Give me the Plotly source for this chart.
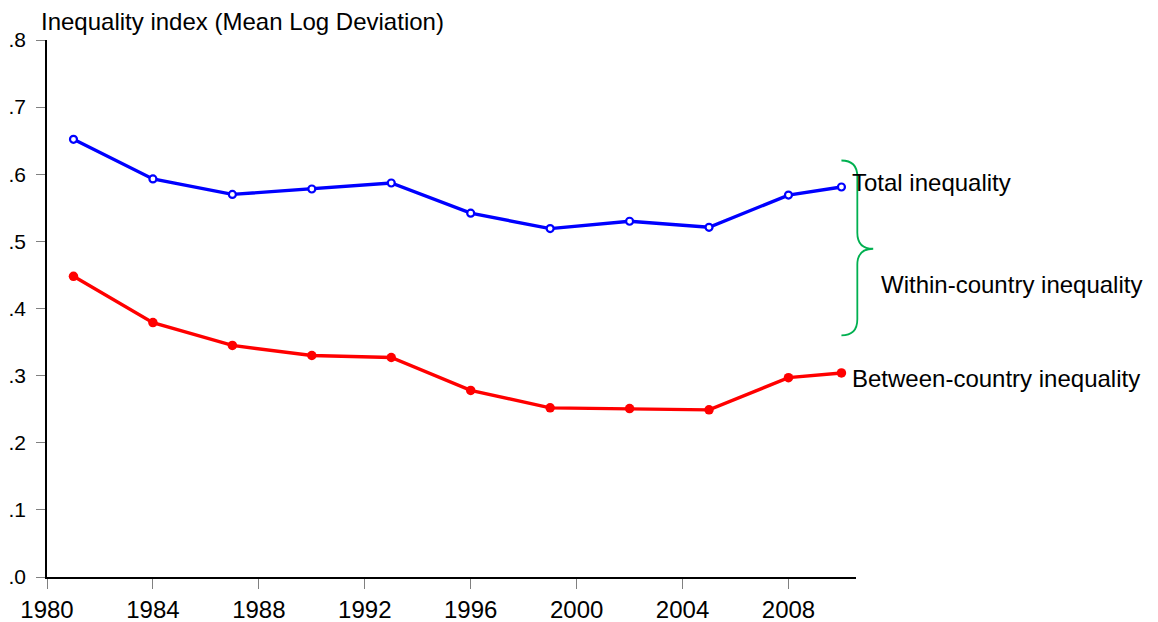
import plotly.graph_objects as go

years = [1981, 1984, 1987, 1990, 1993, 1996, 1999, 2002, 2005, 2008, 2010]
total_ineq = [0.652, 0.593, 0.570, 0.578, 0.587, 0.542, 0.519, 0.530, 0.521, 0.569, 0.581]
between_ineq = [0.448, 0.379, 0.345, 0.330, 0.327, 0.278, 0.252, 0.251, 0.249, 0.297, 0.304]

y_ticks = [0, 0.1, 0.2, 0.3, 0.4, 0.5, 0.6, 0.7, 0.8]
y_tick_labels = [".0", ".1", ".2", ".3", ".4", ".5", ".6", ".7", ".8"]
x_ticks = [1980, 1984, 1988, 1992, 1996, 2000, 2004, 2008]
x_tick_labels = ["1980", "1984", "1988", "1992", "1996", "2000", "2004", "2008"]

XR = [1980, 2010.55]
YR = [0, 0.8]
FONT = "Liberation Sans, Arial, sans-serif"

fig = go.Figure()
fig.add_trace(go.Scatter(
    x=years, y=total_ineq, mode="lines+markers",
    line=dict(color="#0000FF", width=3.4),
    marker=dict(symbol="circle", size=7, color="white", line=dict(color="#0000FF", width=2.2)),
    showlegend=False, cliponaxis=False))
fig.add_trace(go.Scatter(
    x=years, y=between_ineq, mode="lines+markers",
    line=dict(color="#FF0000", width=3.4),
    marker=dict(symbol="circle", size=9.5, color="#FF0000"),
    showlegend=False, cliponaxis=False))

# brace (in data units, converted to paper coords so it is not clipped)
def px(yr):
    return (yr - XR[0]) / (XR[1] - XR[0])
def py(v):
    return (v - YR[0]) / (YR[1] - YR[0])

b_top, b_mid, b_bot = 0.6205, 0.489, 0.360
x0, x1, x2 = 2010.0, 2010.6, 2011.2
dv = 0.024
path = (f"M {px(x0)},{py(b_top)} Q {px(x1)},{py(b_top)} {px(x1)},{py(b_top-dv)} "
        f"L {px(x1)},{py(b_mid+dv)} Q {px(x1)},{py(b_mid)} {px(x2)},{py(b_mid)} "
        f"Q {px(x1)},{py(b_mid)} {px(x1)},{py(b_mid-dv)} "
        f"L {px(x1)},{py(b_bot+dv)} Q {px(x1)},{py(b_bot)} {px(x0)},{py(b_bot)}")
fig.add_shape(type="path", path=path, xref="paper", yref="paper",
              line=dict(color="#00B050", width=1.8))

fig.add_annotation(x=px(2010.33), y=py(0.588), xref="paper", yref="paper", text="Total inequality",
                   showarrow=False, xanchor="left", yanchor="middle",
                   font=dict(family=FONT, size=24, color="black"))
fig.add_annotation(x=px(2011.43), y=py(0.436), xref="paper", yref="paper", text="Within-country inequality",
                   showarrow=False, xanchor="left", yanchor="middle",
                   font=dict(family=FONT, size=24, color="black"))
fig.add_annotation(x=px(2010.33), y=py(0.296), xref="paper", yref="paper", text="Between-country inequality",
                   showarrow=False, xanchor="left", yanchor="middle",
                   font=dict(family=FONT, size=24, color="black"))
fig.add_annotation(x=-0.0095, y=1, xref="paper", yref="paper",
                   text="Inequality index (Mean Log Deviation)",
                   showarrow=False, xanchor="left", yanchor="bottom", yshift=3,
                   font=dict(family=FONT, size=24, color="black"))

fig.update_layout(
    width=1158, height=622,
    margin=dict(l=47, r=302, t=40, b=45),
    paper_bgcolor="white", plot_bgcolor="white",
    font=dict(family=FONT, color="black"),
    xaxis=dict(range=XR, tickvals=x_ticks, ticktext=x_tick_labels, automargin=False,
               showgrid=False, zeroline=False, showline=True, linecolor="black", linewidth=1.5,
               ticks="outside", ticklen=10, tickwidth=1, tickcolor="#808080",
               tickfont=dict(family=FONT, size=24, color="black")),
    yaxis=dict(range=YR, tickvals=y_ticks, ticktext=y_tick_labels, automargin=False,
               showgrid=False, zeroline=False, showline=True, linecolor="black", linewidth=1.5,
               ticks="outside", ticklen=9, tickwidth=1, tickcolor="#808080",
               ticklabelstandoff=6,
               tickfont=dict(family=FONT, size=21, color="black")),
)

fig.write_html("out.html", config={"displayModeBar": False},
               post_script="document.body.style.margin='0';document.body.style.overflow='hidden';")
